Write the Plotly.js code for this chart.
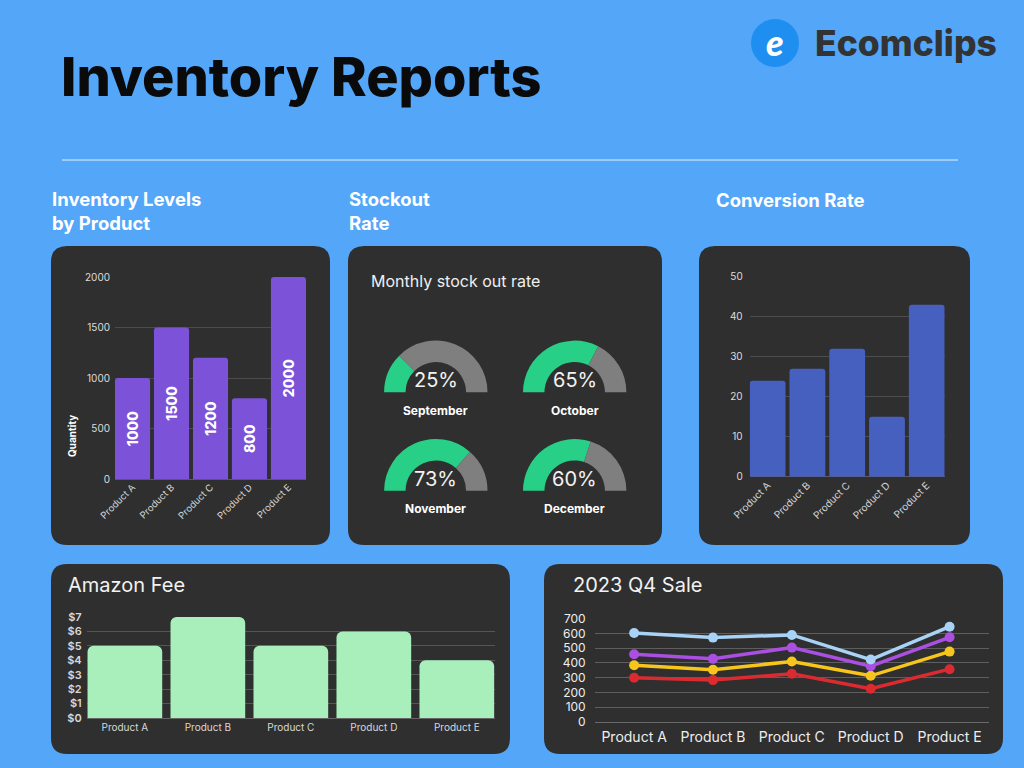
<!DOCTYPE html>
<html><head><meta charset="utf-8">
<script src="https://cdn.plot.ly/plotly-3.0.1.min.js"></script>
<style>html,body{margin:0;padding:0;background:#54a6f9;}#chart{width:1024px;height:768px;}</style>
</head><body><div id="chart"></div>
<script>
// ---------- data ----------
const products = ['Product A','Product B','Product C','Product D','Product E'];
const inventoryQty = [1000,1500,1200,800,2000];
const inventoryTicks = [0,500,1000,1500,2000];
const conversionRate = [24,27,32,15,43];
const conversionTicks = [0,10,20,30,40,50];
const amazonFee = [5,7,5,6,4];
const amazonTicks = [0,1,2,3,4,5,6,7];
const amazonTickLabels = ['$0','$1','$2','$3','$4','$5','$6','$7'];
const months = ['September','October','November','December'];
const stockoutRate = [25,65,73,60];
const q4LightBlue = [603,572,590,423,646];
const q4Purple = [459,428,504,378,574];
const q4Yellow = [385,354,410,313,477];
const q4Red = [300,284,327,225,358];
const q4Ticks = [0,100,200,300,400,500,600,700];

// ---------- helpers (pixel -> paper) ----------
const W = 1024, H = 768;
const px = x => x / W;
const py = y => 1 - y / H;
function dom(x0, y0, x1, y1) { return {x: [px(x0), px(x1)], y: [py(y1), py(y0)]}; }
function P(x, y) { return px(x).toFixed(5) + ',' + py(y).toFixed(5); }
function roundRect(x0, y0, x1, y1, r, color) {
  const d = 'M' + P(x0 + r, y0) + ' L' + P(x1 - r, y0) + ' Q' + P(x1, y0) + ' ' + P(x1, y0 + r) +
    ' L' + P(x1, y1 - r) + ' Q' + P(x1, y1) + ' ' + P(x1 - r, y1) +
    ' L' + P(x0 + r, y1) + ' Q' + P(x0, y1) + ' ' + P(x0, y1 - r) +
    ' L' + P(x0, y0 + r) + ' Q' + P(x0, y0) + ' ' + P(x0 + r, y0) + ' Z';
  return {type: 'path', xref: 'paper', yref: 'paper', path: d, fillcolor: color, line: {width: 0}, layer: 'below'};
}
function ann(text, x, y, opts) {
  return Object.assign({text: text, x: px(x), y: py(y), xref: 'paper', yref: 'paper', showarrow: false,
    xanchor: 'left', yanchor: 'middle'}, opts || {});
}

const FONT = 'Inter, "Open Sans", sans-serif';
const panel = '#2f2f2f';

const dInv = dom(115, 277, 306, 479);
const dConv = dom(749.7, 276.7, 944.7, 476.7);
const dAmz = dom(86.7, 617, 495, 718);
const dQ4 = dom(594.7, 618.7, 989, 722);

// gauge centers (px) and radius
const gaugeCenters = [[435.8, 392.3], [574.7, 392.3], [435.8, 490.7], [574.7, 490.7]];
const gR = 51.7;

const traces = [];
traces.push({
  type: 'bar', x: products, y: inventoryQty, xaxis: 'x', yaxis: 'y',
  marker: {color: '#7b52d8', cornerradius: 3},
  text: inventoryQty.map(String), textposition: 'inside', insidetextanchor: 'middle',
  textangle: -90, constraintext: 'none',
  textfont: {color: '#ffffff', size: 14, family: FONT, weight: 800},
  hoverinfo: 'skip', showlegend: false
});
traces.push({
  type: 'bar', x: products, y: conversionRate, xaxis: 'x2', yaxis: 'y2',
  marker: {color: '#4660c0', cornerradius: 3}, hoverinfo: 'skip', showlegend: false
});
traces.push({
  type: 'bar', x: products, y: amazonFee, xaxis: 'x3', yaxis: 'y3',
  marker: {color: '#a8efbc', cornerradius: 6}, hoverinfo: 'skip', showlegend: false
});
const q4 = [[q4Red, '#dc2b30'], [q4Yellow, '#f7c51c'], [q4Purple, '#ab4ee2'], [q4LightBlue, '#a8d2f6']];
q4.forEach(([vals, col]) => traces.push({
  type: 'scatter', mode: 'lines+markers', x: products, y: vals, xaxis: 'x4', yaxis: 'y4',
  line: {color: col, width: 3.5}, marker: {color: col, size: 10},
  hoverinfo: 'skip', showlegend: false
}));
stockoutRate.forEach((v, i) => {
  const [cx, cy] = gaugeCenters[i];
  traces.push({
    type: 'pie', values: [v, 100 - v, 100], sort: false, direction: 'clockwise', rotation: -90,
    hole: 0.585, textinfo: 'none', hoverinfo: 'skip', showlegend: false,
    marker: {colors: ['#28cf86', '#7f7f7f', 'rgba(0,0,0,0)'], line: {width: 0}},
    domain: {x: [px(cx - gR), px(cx + gR)], y: [py(cy + gR), py(cy - gR)]}
  });
});

const catAxis = (domain, anchor, extra) => Object.assign({
  domain: domain, anchor: anchor, type: 'category', showgrid: false, zeroline: false,
  showline: false, ticks: '', fixedrange: true
}, extra);
const valAxis = (domain, anchor, extra) => Object.assign({
  domain: domain, anchor: anchor, showline: false, ticks: '', zeroline: true, fixedrange: true
}, extra);

const shapes = [
  {type: 'line', xref: 'paper', yref: 'paper', x0: px(62), x1: px(958), y0: py(160), y1: py(160),
   line: {color: 'rgba(255,255,255,0.85)', width: 1}},
  roundRect(51, 246, 330, 545, 16, panel),
  roundRect(348, 246, 662, 545, 16, panel),
  roundRect(699, 246, 970, 545, 16, panel),
  roundRect(51, 564, 510, 754, 16, panel),
  roundRect(544, 564, 1003, 754, 16, panel),
  {type: 'circle', xref: 'paper', yref: 'paper', x0: px(751), x1: px(799), y0: py(67), y1: py(19),
   fillcolor: '#1f8ef1', line: {width: 0}}
];

const annotations = [
  ann('Inventory Reports', 59, 77, {font: {family: FONT, size: 54, color: '#0a0a0a', weight: 800}}),
  ann('e', 775, 42, {xanchor: 'center', font: {family: 'Lato, sans-serif', size: 36, color: '#ffffff', weight: 900, style: 'italic'}}),
  ann('Ecomclips', 813, 44, {font: {family: FONT, size: 35.5, color: '#333333', weight: 800}}),
  ann('Inventory Levels<br>by Product', 50, 211, {font: {family: FONT, size: 18.5, color: '#ffffff', weight: 700}, align: 'left'}),
  ann('Stockout<br>Rate', 347, 211, {font: {family: FONT, size: 18.5, color: '#ffffff', weight: 700}, align: 'left'}),
  ann('Conversion Rate', 714, 200, {font: {family: FONT, size: 18.5, color: '#ffffff', weight: 700}}),
  ann('Quantity', 72, 436, {xanchor: 'center', textangle: -90, font: {family: FONT, size: 10, color: '#ffffff', weight: 700}}),
  ann('Monthly stock out rate', 369, 281, {font: {family: FONT, size: 16, color: '#f0f0f0', weight: 400}}),
  ann('Amazon Fee', 66, 585, {font: {family: FONT, size: 20, color: '#f2f2f2', weight: 400}}),
  ann('2023 Q4 Sale', 571, 585, {font: {family: FONT, size: 20, color: '#f2f2f2', weight: 400}})
];
stockoutRate.forEach((v, i) => {
  const [cx, cy] = gaugeCenters[i];
  annotations.push(ann(v + '%', cx, cy - 12, {xanchor: 'center', font: {family: FONT, size: 20, color: '#f2f2f2', weight: 400}}));
  annotations.push(ann(months[i], cx, cy + 18, {xanchor: 'center', font: {family: FONT, size: 12, color: '#ffffff', weight: 700}}));
});

const layout = {
  width: W, height: H, margin: {l: 0, r: 0, t: 0, b: 0},
  paper_bgcolor: '#54a6f9', plot_bgcolor: 'rgba(0,0,0,0)',
  font: {family: FONT, color: '#dddddd'},
  bargap: 0.1, showlegend: false,
  xaxis: catAxis(dInv.x, 'y', {range: [-0.45, 4.45], tickangle: -45, tickfont: {size: 9.5, color: '#d4d4d4'}}),
  yaxis: valAxis(dInv.y, 'x', {range: [0, 2000], tickvals: inventoryTicks, gridcolor: '#4b4b4b',
    zerolinecolor: '#5a5a5a', tickfont: {size: 10, color: '#dddddd'}, ticklabelstandoff: 4}),
  xaxis2: catAxis(dConv.x, 'y2', {range: [-0.45, 4.45], tickangle: -45, tickfont: {size: 10, color: '#d4d4d4'}}),
  yaxis2: valAxis(dConv.y, 'x2', {range: [0, 50], tickvals: conversionTicks, gridcolor: '#4d4d4d',
    zerolinecolor: '#5a5a5a', tickfont: {size: 10, color: '#dddddd'}, ticklabelstandoff: 6}),
  xaxis3: catAxis(dAmz.x, 'y3', {range: [-0.46, 4.46], tickfont: {size: 10, color: '#d8d8d8'}, ticklabelstandoff: 2}),
  yaxis3: valAxis(dAmz.y, 'x3', {range: [0, 7], tickvals: amazonTicks, ticktext: amazonTickLabels, gridcolor: '#555555',
    zerolinecolor: '#666666', tickfont: {size: 11, color: '#d8d8d8', weight: 600}, ticklabelstandoff: 4}),
  xaxis4: catAxis(dQ4.x, 'y4', {range: [-0.5, 4.5], tickfont: {size: 14, color: '#eeeeee'}, ticklabelstandoff: 5}),
  yaxis4: valAxis(dQ4.y, 'x4', {range: [0, 700], tickvals: q4Ticks, gridcolor: '#5e5e5e',
    zerolinecolor: '#6a6a6a', tickfont: {size: 12, color: '#eeeeee'}, ticklabelstandoff: 8}),
  shapes: shapes, annotations: annotations
};

Plotly.newPlot('chart', traces, layout, {staticPlot: true, displayModeBar: false});
</script>
</body></html>
